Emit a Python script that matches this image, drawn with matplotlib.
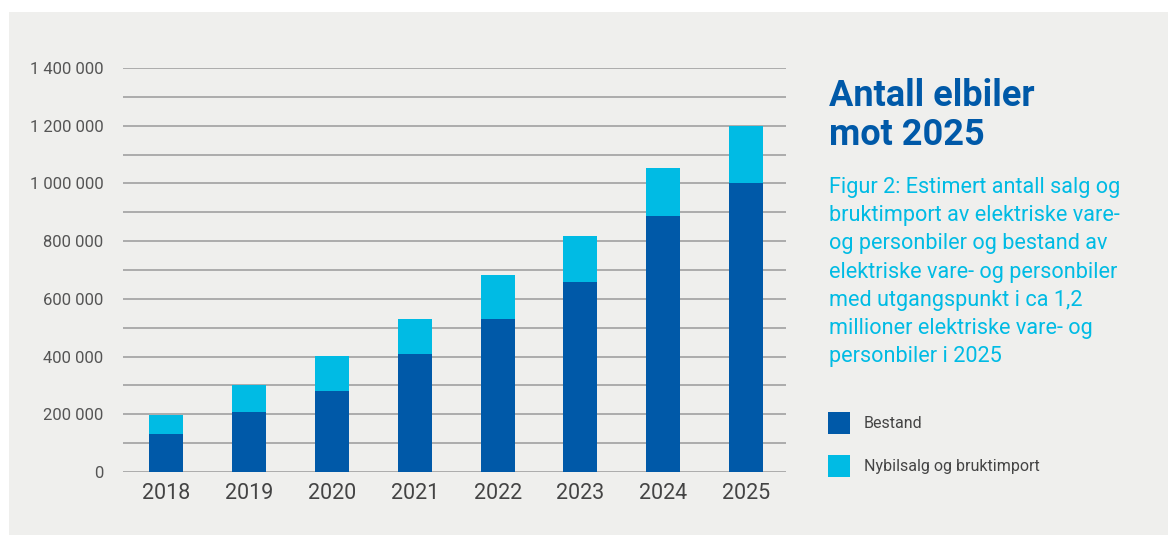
import matplotlib.pyplot as plt
from matplotlib.patches import Rectangle
from matplotlib.ticker import FuncFormatter, MultipleLocator

years = ["2018", "2019", "2020", "2021", "2022", "2023", "2024", "2025"]
bestand = [132000, 208000, 281000, 409000, 530000, 658000, 887000, 1003000]
nybilsalg = [66000, 93000, 121000, 121000, 153000, 160000, 166000, 197000]

DARK = "#0059a8"
LIGHT = "#00bbe4"
BG = "#efefed"

plt.rcParams["font.family"] = ["Roboto", "DejaVu Sans"]

fig = plt.figure(figsize=(11.68, 5.35), dpi=100)
fig.patch.set_facecolor("white")
# grey panel with a thin white margin at top and left
fig.patches.append(Rectangle((9 / 1168, 0), 1, 1 - 12 / 535, transform=fig.transFigure,
                             facecolor=BG, edgecolor="none", zorder=-10))

ax = fig.add_axes([123 / 1168, 1 - 472 / 535, (786 - 123) / 1168, (472 - 68) / 535])
ax.set_facecolor("none")

x = list(range(len(years)))
ax.bar(x, bestand, width=0.41, color=DARK, zorder=3, label="Bestand")
ax.bar(x, nybilsalg, bottom=bestand, width=0.41, color=LIGHT, zorder=3,
       label="Nybilsalg og bruktimport")

ax.set_xlim(-0.52, 7.48)
ax.set_ylim(0, 1400000)
ax.yaxis.set_major_locator(MultipleLocator(200000))
ax.yaxis.set_minor_locator(MultipleLocator(100000))
ax.yaxis.set_major_formatter(FuncFormatter(lambda v, p: f"{int(v):,}".replace(",", " ")))
ax.grid(axis="y", which="both", color="#9a9a9a", linewidth=1.1, zorder=1)
ax.set_xticks(x)
ax.set_xticklabels(years)
ax.tick_params(axis="y", which="both", length=0, pad=14, labelsize=12, labelcolor="#555555")
ax.tick_params(axis="x", length=0, pad=8, labelsize=15.5, labelcolor="#444444")
for s in ax.spines.values():
    s.set_visible(False)

# title and caption
fig.text(829 / 1168, 1 - 78 / 535, "Antall elbiler\nmot 2025", fontsize=26, fontweight="bold",
         color=DARK, va="top", linespacing=1.1)
caption = ("Figur 2: Estimert antall salg og\n"
           "bruktimport av elektriske vare-\n"
           "og personbiler og bestand av\n"
           "elektriske vare- og personbiler\n"
           "med utgangspunkt i ca 1,2\n"
           "millioner elektriske vare- og\n"
           "personbiler i 2025")
fig.text(829 / 1168, 1 - 177 / 535, caption, fontsize=15.6, color=LIGHT, va="top", linespacing=1.45)

# legend
for i, (lab, col) in enumerate([("Bestand", DARK), ("Nybilsalg og bruktimport", LIGHT)]):
    y0 = 412 + i * 43
    fig.patches.append(Rectangle((828 / 1168, 1 - (y0 + 22) / 535), 22 / 1168, 22 / 535,
                                 transform=fig.transFigure, facecolor=col, edgecolor="none"))
    fig.text(864 / 1168, 1 - (y0 + 11) / 535, lab, fontsize=11.5, color="#444444", va="center")

fig.savefig("out.png", dpi=100, facecolor=fig.get_facecolor())
